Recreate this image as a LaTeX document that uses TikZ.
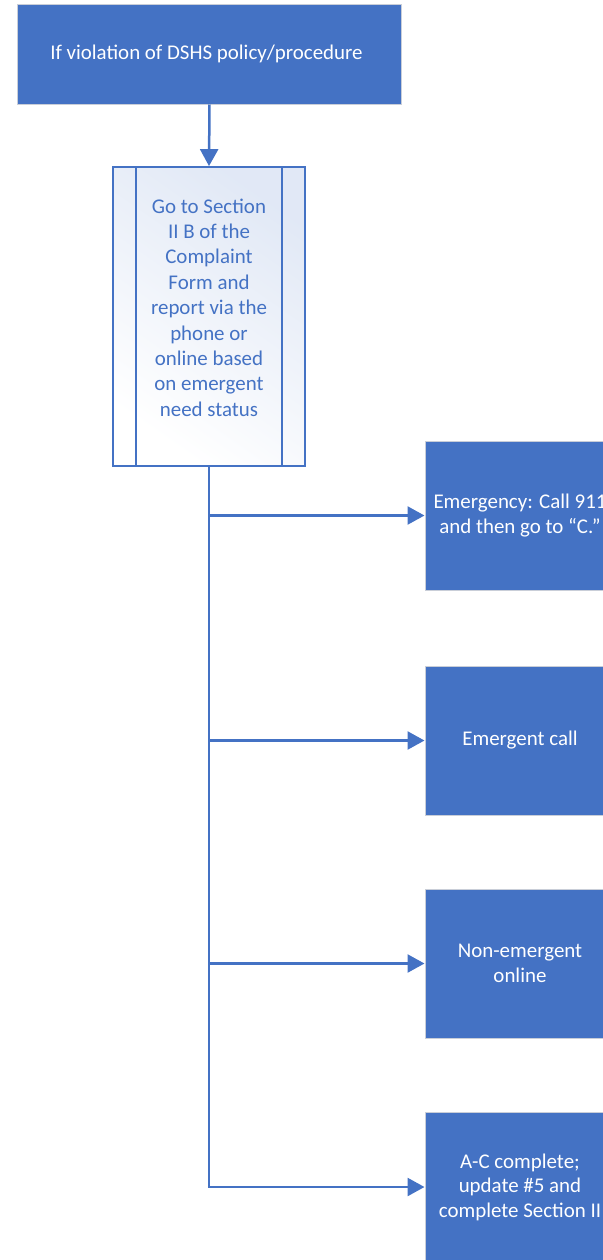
\documentclass[tikz,border=0pt]{standalone}
\usepackage{fontspec}
\setmainfont{Carlito}
\usetikzlibrary{arrows.meta}
\definecolor{accent}{HTML}{4472C4}
\definecolor{rim}{HTML}{C9CED8}
\begin{document}
\begin{tikzpicture}[x=1bp,y=-1bp,
  solid box/.style={rectangle, fill=accent, draw=rim, line width=1bp,
    text=white, align=center, inner sep=0pt,
    font=\fontsize{21}{24.5}\selectfont},
  choice/.style={solid box, minimum width=190bp, minimum height=149bp},
  subproc/.style={rectangle, draw=accent, line width=1.8bp,
    top color=accent!16!white, bottom color=white, shading angle=-35,
    minimum width=192bp, minimum height=299bp},
  subtext/.style={text=accent, align=center, inner sep=0pt,
    font=\fontsize{21}{25.5}\selectfont},
  flow/.style={draw=accent, line width=2.5bp},
  tip/.style={flow, -{Triangle[length=17bp,width=18bp]}}]
\useasboundingbox (0,0) rectangle (603,1260);
\clip (0,0) rectangle (603,1260);

% start condition
\node[solid box, minimum width=383bp, minimum height=100bp] (start) at (209.5,54)
  {\hspace*{-6bp}If violation of DSHS policy/procedure};

% predefined-process step with its two side bars
\node[subproc] (sub) at (209,316.5) {};
\draw[accent, line width=1.8bp] ([xshift=24bp]sub.north west) -- ([xshift=24bp]sub.south west);
\draw[accent, line width=1.8bp] ([xshift=-24bp]sub.north east) -- ([xshift=-24bp]sub.south east);
\node[subtext] (subtxt) at ([yshift=9bp]sub.center)
  {Go to Section\\II B of the\\Complaint\\Form and\\report via the\\phone or\\online based\\on emergent\\need status};

% outcomes
\node[choice] (c1) at (520,515.5) {Emergency: Call 911\\and then go to “C.”};
\node[choice] (c2) at (520,740.5) {Emergent call};
\node[choice] (c3) at (520,963.5) {Non-emergent\\online};
\node[choice] (c4) at (520,1187) {A-C complete;\\update \#5 and\\complete Section II};

% connectors
\draw[tip] (start.south) -- (sub.north);
\coordinate (b1) at (sub.south |- c1.west);
\coordinate (b2) at (sub.south |- c2.west);
\coordinate (b3) at (sub.south |- c3.west);
\coordinate (b4) at (sub.south |- c4.west);
\draw[flow] (sub.south) -- (b4);
\draw[tip] (b1) -- (c1.west);
\draw[tip] (b2) -- (c2.west);
\draw[tip] (b3) -- (c3.west);
\draw[tip] ([xshift=-1.25bp]b4) -- (c4.west);
\end{tikzpicture}
\end{document}
